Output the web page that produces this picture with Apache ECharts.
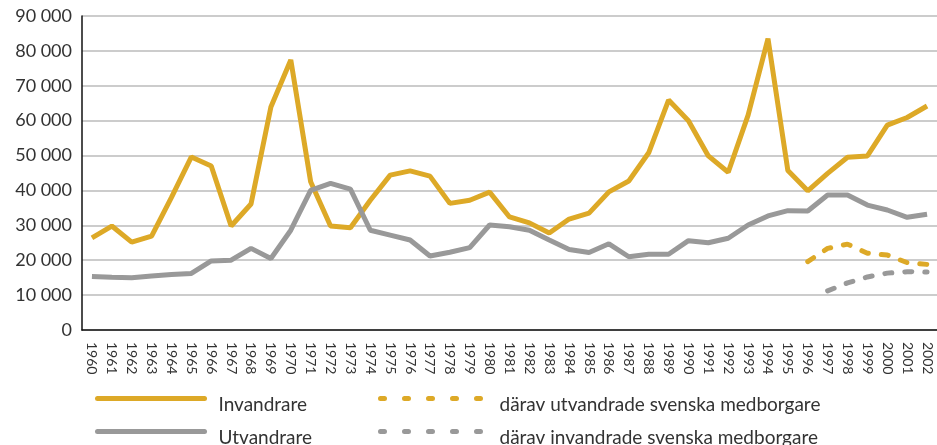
<!DOCTYPE html>
<html>
<head>
<meta charset="utf-8">
<script src="https://cdn.jsdelivr.net/npm/echarts@6/dist/echarts.min.js"></script>
<style>
  html, body { margin: 0; padding: 0; background: #fff; }
  #chart { width: 937px; height: 445px; }
</style>
</head>
<body>
<div id="chart"></div>
<script>
var years = [];
for (var y = 1960; y <= 2002; y++) years.push(String(y));

var invandrare = [26400, 29800, 25200, 26900, 38000, 49600, 47000, 29800, 36100, 63900,
  77400, 42500, 29800, 29300, 37200, 44400, 45600, 44100, 36300, 37200,
  39500, 32400, 30700, 27800, 31800, 33500, 39600, 42700, 50800, 65900,
  60000, 49900, 45200, 61600, 83500, 45700, 39900, 44900, 49500, 49900,
  58700, 60900, 64200];

var utvandrare = [15300, 15100, 15000, 15500, 15900, 16200, 19800, 20000, 23400, 20500,
  28600, 40000, 42000, 40400, 28600, 27200, 25800, 21200, 22300, 23600,
  30100, 29600, 28600, 25800, 23100, 22200, 24700, 21000, 21700, 21700,
  25600, 25000, 26300, 30100, 32700, 34200, 34100, 38700, 38700, 35800,
  34400, 32300, 33200];

// bara 1996-2002 finns
var utvSvenska = [null, null, null, null, null, null, null, null, null, null,
  null, null, null, null, null, null, null, null, null, null,
  null, null, null, null, null, null, null, null, null, null,
  null, null, null, null, null, null, 19600, 23400, 24600, 22000,
  21500, 19300, 18800];

var invSvenska = [null, null, null, null, null, null, null, null, null, null,
  null, null, null, null, null, null, null, null, null, null,
  null, null, null, null, null, null, null, null, null, null,
  null, null, null, null, null, null, null, 11200, 13500, 15200,
  16300, 16700, 16600];

var yTicks = [0, 10000, 20000, 30000, 40000, 50000, 60000, 70000, 80000, 90000];

var gold = '#DDA927';
var grey = '#999999';
var font = 'Lato, "Open Sans", sans-serif';

var chartDom = document.getElementById('chart');
var myChart = echarts.init(chartDom);

function fmt(v) {
  if (v === 0) return '0';
  var s = String(v);
  return s.slice(0, s.length - 3) + ' ' + s.slice(-3);
}

// en legend per rad, placerad för hand
function oneLegend(name, left, top, width, color, dashed, padLeft) {
  return {
    data: [name],
    left: left, top: top,
    padding: 0,
    itemWidth: width, itemHeight: 36,
    itemStyle: { opacity: 0 },
    lineStyle: dashed
      ? { color: color, width: 5, type: [4, 20], cap: 'round' }
      : { color: color, width: 5, cap: 'round' },
    formatter: '{s| }{t|{name}}',
    textStyle: {
      fontFamily: font, fontSize: 19, color: '#333',
      padding: [0, 0, 0, padLeft],
      rich: {
        s: { fontSize: 1, lineHeight: 32, width: 0 },
        t: { fontFamily: font, fontSize: 19, color: '#333', lineHeight: 22, verticalAlign: 'bottom' }
      }
    }
  };
}

var option = {
  animation: false,
  backgroundColor: '#fff',
  grid: { left: 82, right: 0, top: 16, bottom: 115 },
  legend: [
    oneLegend('Invandrare', 95, 384, 107, gold, false, 9),
    oneLegend('Utvandrare', 95, 417, 107, grey, false, 9),
    oneLegend('därav utvandrade svenska medborgare', 378, 384, 104, gold, true, 10),
    oneLegend('därav invandrade svenska medborgare', 378, 417, 104, grey, true, 10)
  ],
  xAxis: {
    type: 'category',
    data: years,
    boundaryGap: true,
    axisLine: { lineStyle: { color: '#111', width: 1.5 } },
    axisTick: { inside: true, length: 6, lineStyle: { color: '#111', width: 1.2 } },
    axisLabel: {
      rotate: -90, interval: 0, margin: 12,
      fontFamily: font, fontSize: 14, color: '#333'
    },
    splitLine: { show: false }
  },
  yAxis: {
    type: 'value',
    min: 0, max: 90000, interval: 10000,
    axisLine: { show: true, lineStyle: { color: '#111', width: 1.5 } },
    axisTick: { show: false },
    axisLabel: {
      margin: 10, fontFamily: font, fontSize: 18, color: '#333',
      formatter: function (v) { return yTicks.indexOf(v) >= 0 ? fmt(v) : ''; }
    },
    splitLine: { lineStyle: { color: '#bbbbbb', width: 1.5 } }
  },
  series: [
    {
      name: 'Invandrare', type: 'line', data: invandrare,
      symbol: 'none', color: gold,
      lineStyle: { color: gold, width: 5 }
    },
    {
      name: 'Utvandrare', type: 'line', data: utvandrare,
      symbol: 'none', color: grey,
      lineStyle: { color: grey, width: 5 }
    },
    {
      name: 'därav utvandrade svenska medborgare', type: 'line', data: utvSvenska,
      symbol: 'none', color: gold,
      lineStyle: { color: gold, width: 5, type: [7, 13], cap: 'round' }
    },
    {
      name: 'därav invandrade svenska medborgare', type: 'line', data: invSvenska,
      symbol: 'none', color: grey,
      lineStyle: { color: grey, width: 5, type: [7, 13], cap: 'round' }
    }
  ]
};

option && myChart.setOption(option);
</script>
</body>
</html>
